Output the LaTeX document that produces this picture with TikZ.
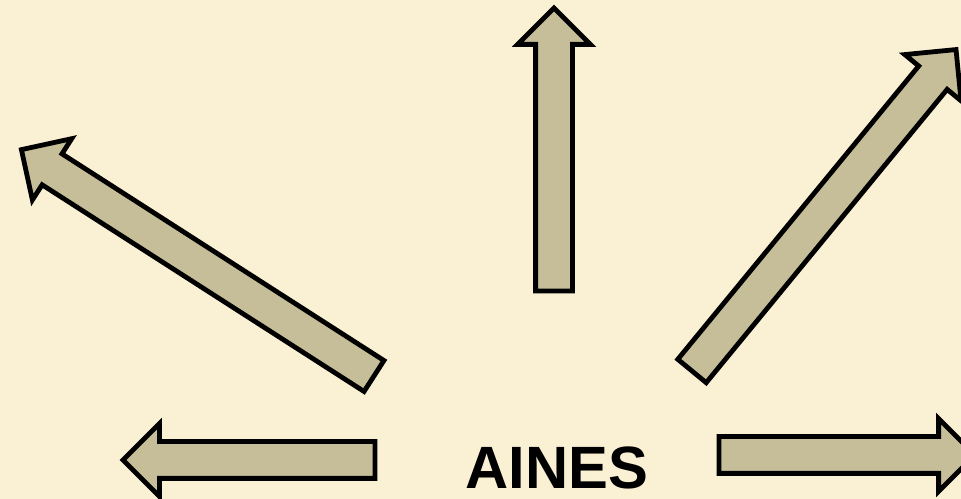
\documentclass[tikz,border=0pt]{standalone}
\usepackage{fontspec}
\setmainfont{Liberation Sans}
\usetikzlibrary{shapes.arrows}
\definecolor{bgcream}{RGB}{250,240,212}
\definecolor{khaki}{RGB}{197,190,152}
\newcommand{\pxl}{0.02cm}
\tikzset{
    blockarrow/.style={
        single arrow,draw=black,fill=khaki,line width=4.8*\pxl,
        inner xsep=0pt,inner ysep=16*\pxl,outer sep=0pt,minimum width=0pt,
        single arrow head extend=18*\pxl,single arrow head indent=0pt,
        anchor=tail,minimum height=#1*\pxl
    },
    blockarrow/.default=250,
    title/.style={
        font=\fontsize{34}{40}\selectfont\bfseries,text=black,inner sep=0pt
    }
}
\begin{document}
\begin{tikzpicture}[x=\pxl,y=-\pxl]

\fill[bgcream](0,0)rectangle(961,499);
\useasboundingbox(0,0)rectangle(961,499);

\node[blockarrow=283,rotate=90](up) at (554,291){};
\node[blockarrow=252,rotate=180](left) at (375,460){};
\node[blockarrow=256,rotate=0](right) at (719,455){};
\node[blockarrow=419,rotate=147.3](upleft) at (374,376){};
\node[blockarrow=416,rotate=50.6](upright) at (692,371){};

\node[title](aines) at (557,468){AINES};

\end{tikzpicture}
\end{document}
